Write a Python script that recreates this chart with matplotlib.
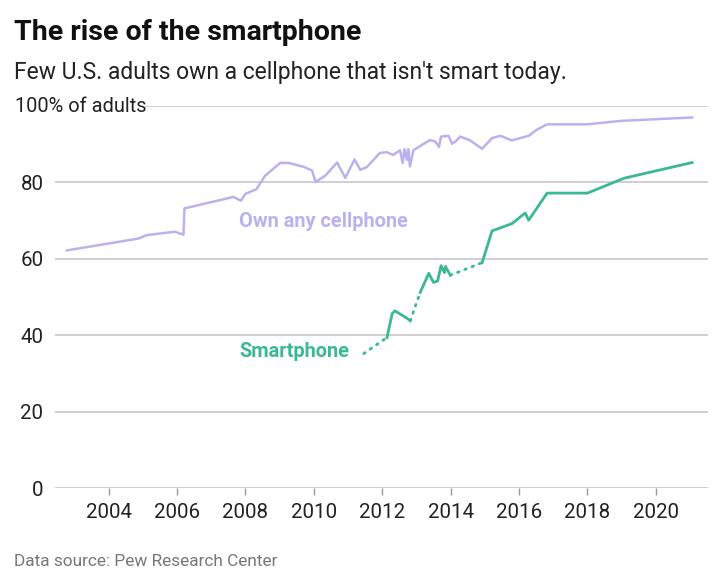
import matplotlib.pyplot as plt
import numpy as np

plt.rcParams['font.family'] = ['Roboto', 'DejaVu Sans']

# own any cellphone (% of adults)
cell_years = [2002.78, 2004.87, 2005.12, 2005.94, 2006.19, 2006.22, 2007.65, 2007.87, 2008.0, 2008.32,
              2008.58, 2009.02, 2009.26, 2009.70, 2009.95, 2010.05, 2010.34, 2010.68, 2010.92, 2011.19,
              2011.36, 2011.55, 2011.93, 2012.13, 2012.32, 2012.52, 2012.6, 2012.65, 2012.72, 2012.76,
              2012.81, 2012.91, 2013.16, 2013.4, 2013.55, 2013.66, 2013.72, 2013.94, 2014.04, 2014.14,
              2014.28, 2014.57, 2014.92, 2015.21, 2015.45, 2015.79, 2016.28, 2016.52, 2016.82, 2017.99,
              2018.96, 2021.06]
cell_vals = [62.2, 65.3, 66.2, 67.1, 66.3, 73.2, 76.2, 75.2, 77.0, 78.2,
             81.8, 85.1, 85.1, 84.1, 83.1, 80.1, 81.8, 85.2, 81.2, 86.0,
             83.3, 84.0, 87.7, 87.9, 87.2, 88.4, 85.1, 88.7, 85.9, 88.7,
             84.2, 88.4, 89.8, 91.1, 90.7, 89.3, 92.0, 92.2, 90.1, 90.7,
             92.0, 91.0, 88.8, 91.6, 92.2, 91.0, 92.2, 93.8, 95.2, 95.2,
             96.1, 97.0]

# smartphone (% of adults)
smart_years = [2011.46, 2012.14, 2012.29, 2012.37, 2012.68, 2012.82, 2013.11, 2013.36, 2013.5, 2013.62,
               2013.72, 2013.82, 2013.85, 2013.99, 2014.92, 2015.21, 2015.45, 2015.79, 2016.18, 2016.28,
               2016.82, 2018.0, 2019.07, 2021.06]
smart_vals = [35.2, 39.4, 45.6, 46.4, 44.7, 43.8, 51.2, 56.2, 53.8, 54.2,
              58.2, 56.4, 58.0, 55.7, 59.0, 67.3, 68.1, 69.2, 72.0, 70.1,
              77.2, 77.2, 81.1, 85.2]
# False = gap between surveys, drawn dotted
smart_solid = [False, True, True, True, True, False, True, True, True, True,
               True, True, True, False, True, True, True, True, True, True,
               True, True, True]

yticks = [0, 20, 40, 60, 80]
xticks = [2004, 2006, 2008, 2010, 2012, 2014, 2016, 2018, 2020]

cell_color = '#b8b3ee'
smart_color = '#3bb894'

fig = plt.figure(figsize=(7.2, 5.86), dpi=100)
ax = fig.add_axes([0.0757, 0.1672, 0.907, 0.6519])
ax.set_xlim(2002.42, 2021.51)
ax.set_ylim(0, 100)

for y in yticks:
    ax.axhline(y, color='#cfcfcf', lw=1.4, zorder=0)
ax.axhline(100, xmin=0.14, color='#cfcfcf', lw=1.4, zorder=0)

ax.plot(cell_years, cell_vals, color=cell_color, lw=1.8, clip_on=False, solid_joinstyle='round')

# dotted connectors for gaps, solid runs for the rest
i = 0
n = len(smart_solid)
while i < n:
    j = i
    while j < n and smart_solid[j] == smart_solid[i]:
        j += 1
    xs = smart_years[i:j + 1]
    vs = smart_vals[i:j + 1]
    if smart_solid[i]:
        ax.plot(xs, vs, color=smart_color, lw=2, solid_joinstyle='round', clip_on=False)
    else:
        ax.plot(xs, vs, color=smart_color, lw=2, linestyle=(0, (0.6, 2.2)),
                dash_capstyle='round', clip_on=False)
    i = j

ax.text(2007.82, 69.7, 'Own any cellphone', color=cell_color, fontsize=14.4,
        fontweight='bold', va='center', ha='left')
ax.text(2007.82, 35.7, 'Smartphone', color=smart_color, fontsize=14.4,
        fontweight='bold', va='center', ha='left')

for s in ax.spines.values():
    s.set_visible(False)
ax.set_yticks(yticks)
ax.set_yticklabels([str(v) for v in yticks])
ax.tick_params(axis='y', length=0, pad=8, labelsize=14.8, labelcolor='#222222')
ax.set_xticks(xticks)
ax.set_xticklabels([str(v) for v in xticks])
ax.tick_params(axis='x', length=5, width=1, color='#999999', pad=6, labelsize=14.8,
               labelcolor='#222222')

fig.text(0.021, 0.819, '100% of adults', fontsize=14.4, color='#222222', va='center', ha='left')
fig.text(0.019, 0.945, 'The rise of the smartphone', fontsize=20.5, fontweight='bold',
         color='#111111', va='center', ha='left')
fig.text(0.019, 0.877, "Few U.S. adults own a cellphone that isn't smart today.", fontsize=16.5,
         color='#222222', va='center', ha='left')
fig.text(0.019, 0.041, 'Data source: Pew Research Center', fontsize=12.4, color='#777777',
         va='center', ha='left')

fig.savefig('out.png', dpi=100)
